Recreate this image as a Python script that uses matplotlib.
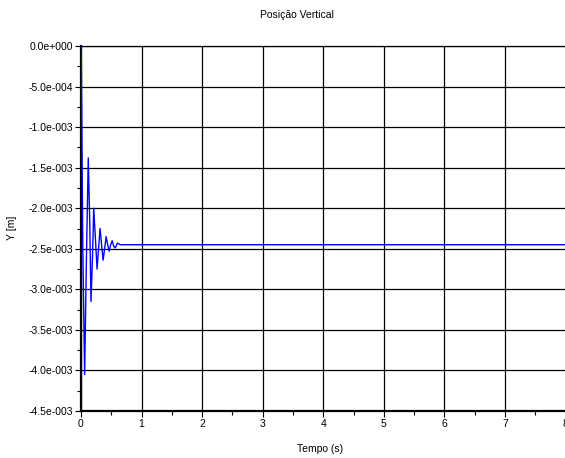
import matplotlib
matplotlib.use("Agg")
import matplotlib.pyplot as plt
from matplotlib.ticker import FixedLocator, FixedFormatter

plt.rcParams['font.family'] = ['Liberation Sans', 'DejaVu Sans']

# data
time_s = [0.0, 0.005, 0.03, 0.06, 0.09, 0.12, 0.145, 0.165, 0.19, 0.21, 0.24,
          0.265, 0.29, 0.315, 0.34, 0.365, 0.39, 0.415, 0.44, 0.465, 0.49,
          0.515, 0.54, 0.565, 0.6, 0.65, 8.0]
pos_mm = [0.0, -0.2, -2.5, -4.05, -2.6, -1.38, -2.2, -3.15, -2.6, -2.0, -2.4,
          -2.75, -2.5, -2.25, -2.45, -2.64, -2.5, -2.35, -2.45, -2.53, -2.45,
          -2.40, -2.47, -2.49, -2.43, -2.45, -2.45]
pos_m = [v * 1e-3 for v in pos_mm]

x_ticks = [0, 1, 2, 3, 4, 5, 6, 7, 8]
y_ticks = [0.0, -0.5e-3, -1.0e-3, -1.5e-3, -2.0e-3, -2.5e-3, -3.0e-3, -3.5e-3, -4.0e-3, -4.5e-3]
y_tick_labels = ['0.0e+000', '-5.0e-004', '-1.0e-003', '-1.5e-003', '-2.0e-003',
                 '-2.5e-003', '-3.0e-003', '-3.5e-003', '-4.0e-003', '-4.5e-003']

fig = plt.figure(figsize=(5.65, 4.58), dpi=100)
ax = fig.add_axes([81/565, 1 - 411/458, 1 - 81/565 + 0.001, (411 - 46)/458])

ax.plot(time_s, pos_m, color='#0000ff', linewidth=1.0, zorder=3)

ax.set_xlim(0, 8)
ax.set_ylim(-4.5e-3, 0)
ax.xaxis.set_major_locator(FixedLocator(x_ticks))
ax.set_xticklabels([str(v) for v in x_ticks])
ax.yaxis.set_major_locator(FixedLocator(y_ticks))
ax.yaxis.set_major_formatter(FixedFormatter(y_tick_labels))
ax.xaxis.set_minor_locator(FixedLocator([v + 0.5 for v in x_ticks[:-1]]))
ax.yaxis.set_minor_locator(FixedLocator([v - 0.25e-3 for v in y_ticks[:-1]]))

ax.grid(True, which='major', color='black', linewidth=0.9)
ax.tick_params(which='major', direction='out', length=4, width=0.8,
               labelsize=7.5, colors='black', pad=2)
ax.tick_params(which='minor', direction='out', length=3, width=0.8)

for side in ['left', 'bottom']:
    ax.spines[side].set_linewidth(1.6)
ax.spines['top'].set_linewidth(0.9)
ax.spines['right'].set_visible(False)

fig.text(297/565, 1 - 15/458, 'Posição Vertical', ha='center', va='center', fontsize=7.5)
fig.text(320/565, 1 - 449/458, 'Tempo (s)', ha='center', va='center', fontsize=7.5)
fig.text(12/565, 1 - 228/458, 'Y [m]', ha='center', va='center', rotation=90, fontsize=7.5)

fig.savefig('out.png', dpi=100)
